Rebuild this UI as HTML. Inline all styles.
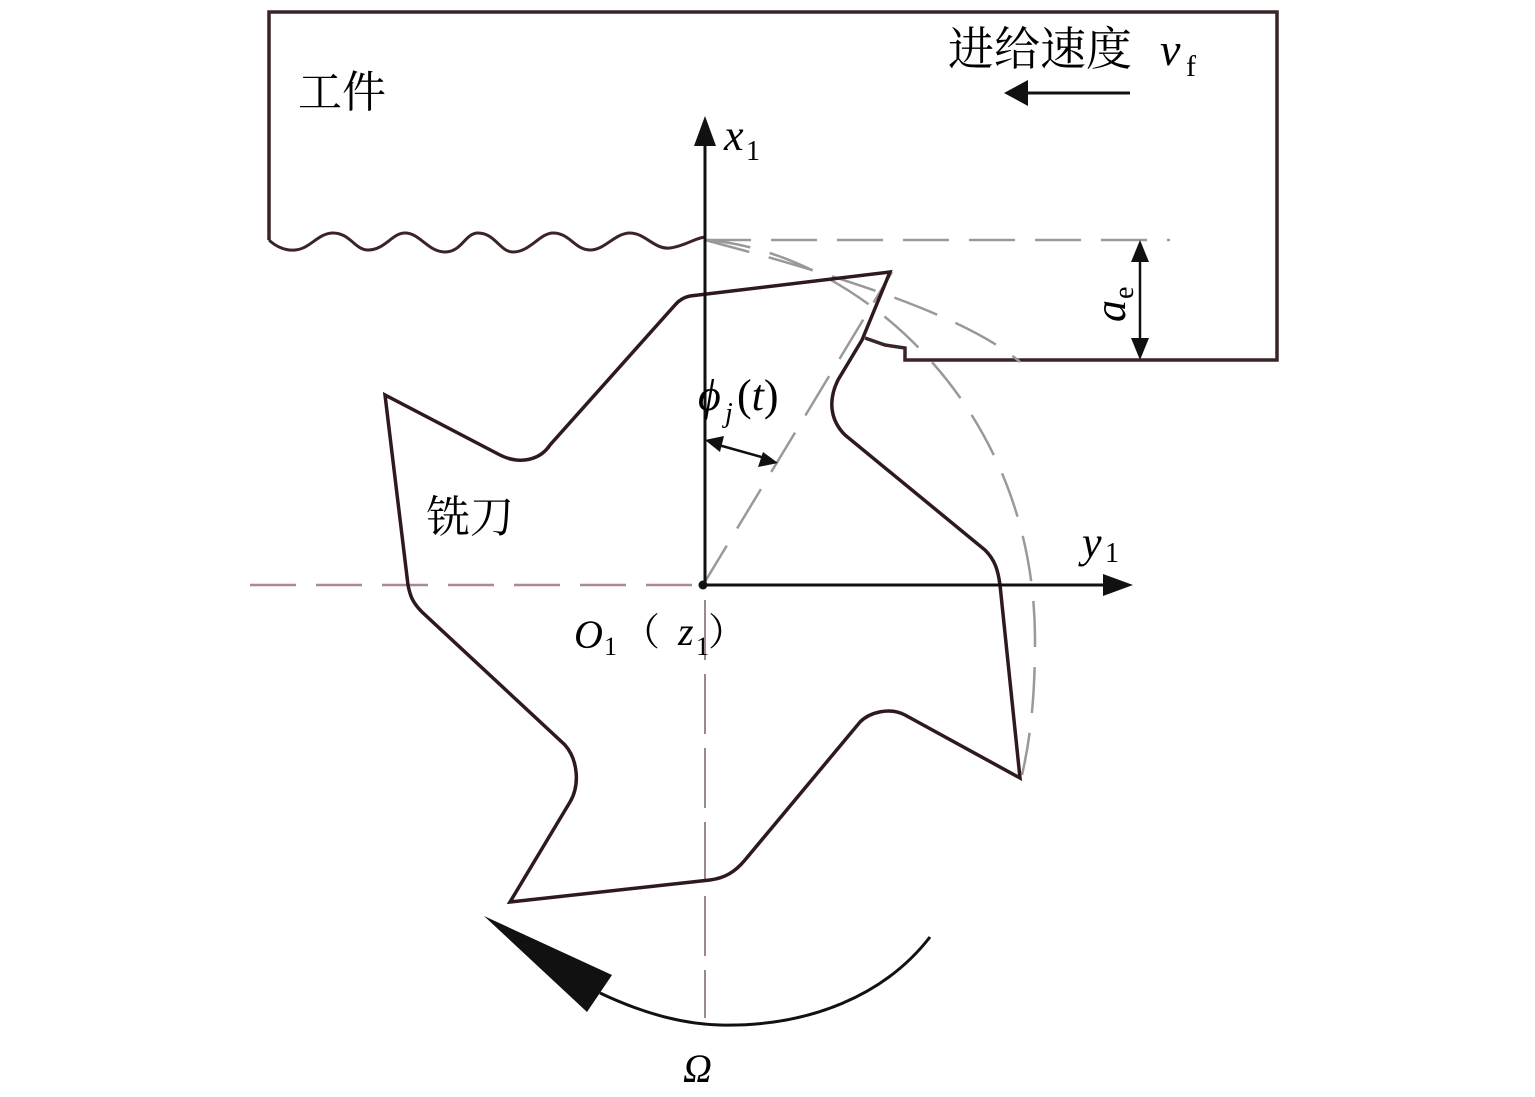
<!DOCTYPE html>
<html><head><meta charset="utf-8"><style>
html,body{margin:0;padding:0;background:#fff;}
svg{display:block;}
.cn{font-family:"Liberation Serif","Noto Serif CJK SC","Noto Sans CJK SC",serif;}
.it{font-family:"Liberation Serif",serif;font-style:italic;}
.rm{font-family:"Liberation Serif",serif;}
</style></head><body>
<svg width="1535" height="1097" viewBox="0 0 1535 1097" xmlns="http://www.w3.org/2000/svg">
<path d="M269,240 L269,12 L1277,12 L1277,360 L905,360 L905,348 L885,345 L865,338" fill="none" stroke="#3a2426" stroke-width="3.5"/>
<path d="M269,240 C275,246 285,251 295,250 C310,249 318,233 333,233 C350,233 355,250 368,250 C385,250 392,233 405,233 C420,233 428,252 445,252 C462,252 465,233 478,233 C495,233 500,252 513,252 C530,252 540,233 553,233 C570,233 575,250 590,250 C605,250 615,233 630,233 C645,233 655,250 670,248 C685,246 695,238 705,237" fill="none" stroke="#3a2426" stroke-width="3"/>
<g stroke="#999" stroke-width="2.5" fill="none" stroke-dasharray="46,20">
<line x1="705" y1="240" x2="1170" y2="240"/>
<path d="M705,240 C850,250 1035,400 1035,640 C1035,700 1030,740 1022,775"/>
<path d="M705,240 C800,265 960,310 1020,362"/>
<line x1="703" y1="585" x2="892" y2="272"/>
<line x1="250" y1="585" x2="700" y2="585" stroke="#a89"/>
</g>
<line x1="705" y1="600" x2="705" y2="1018" stroke="#9a8a8e" stroke-width="2" stroke-dasharray="60,14"/>
<path d="M690,296 L890,272 L862,340 L838,380 C828,400 830,420 845,435 L985,550 C995,560 998,570 1000,585 L1020,778 L905,715 C890,707 870,712 860,722 L745,860 C735,872 725,878 710,880 L510,902 L570,802 C580,785 578,760 565,745 L422,612 C412,602 410,595 408,585 L385,395 L500,455 C520,465 540,460 550,445 L675,305 C680,299 685,297 690,296 Z" fill="none" stroke="#2e1a1c" stroke-width="3.5" stroke-linejoin="miter"/>
<line x1="705" y1="585" x2="705" y2="140" stroke="#111" stroke-width="3"/>
<polygon points="705,116 694,146 716,146" fill="#111"/>
<line x1="703" y1="585" x2="1110" y2="585" stroke="#111" stroke-width="3"/>
<polygon points="1133,585 1103,574 1103,596" fill="#111"/>
<circle cx="703" cy="585" r="4.5" fill="#111"/>
<line x1="715" y1="444" x2="765" y2="458" stroke="#111" stroke-width="2.5"/>
<polygon points="705,440 724,436 720,452" fill="#111"/>
<polygon points="778,463 758,467 763,452" fill="#111"/>
<line x1="1140" y1="255" x2="1140" y2="345" stroke="#111" stroke-width="2.5"/>
<polygon points="1140,240 1131,262 1149,262" fill="#111"/>
<polygon points="1140,360 1131,338 1149,338" fill="#111"/>
<line x1="1025" y1="93" x2="1130" y2="93" stroke="#111" stroke-width="3"/>
<polygon points="1004,93 1028,80 1028,106" fill="#111"/>
<path d="M930,937 C885,995 810,1027 720,1025 C680,1024 640,1012 600,993" fill="none" stroke="#111" stroke-width="3"/>
<polygon points="484,916 612,975 587,1012" fill="#111"/>
<text x="298" y="107" class="cn" font-size="44">工件</text>
<text x="948" y="65" class="cn" font-size="46">进给速度</text>
<text x="1160" y="65" class="it" font-size="46">v</text>
<text x="1186" y="76" class="rm" font-size="30">f</text>
<text x="724" y="150" class="it" font-size="44">x</text>
<text x="746" y="160" class="rm" font-size="28">1</text>
<text x="1082" y="557" class="it" font-size="44">y</text>
<text x="1105" y="562" class="rm" font-size="28">1</text>
<text x="698" y="410" class="it" font-size="44">ϕ</text>
<text x="725" y="422" class="it" font-size="28">j</text>
<text x="737" y="410" class="rm" font-size="44">(<tspan class="it">t</tspan>)</text>
<g transform="translate(1125,322) rotate(-90)"><text x="0" y="0" class="it" font-size="44">a</text><text x="23" y="8" class="rm" font-size="28">e</text></g>
<text x="426" y="532" class="cn" font-size="44">铣刀</text>
<text x="574" y="648" class="it" font-size="40">O</text>
<text x="604" y="655" class="rm" font-size="26">1</text>
<text x="622" y="645" class="cn" font-size="38">（</text>
<text x="678" y="645" class="it" font-size="40">z</text>
<text x="696" y="655" class="rm" font-size="26">1</text>
<text x="708" y="645" class="cn" font-size="38">）</text>
<text x="683" y="1082" class="it" font-size="40">Ω</text>
</svg>
</body></html>
